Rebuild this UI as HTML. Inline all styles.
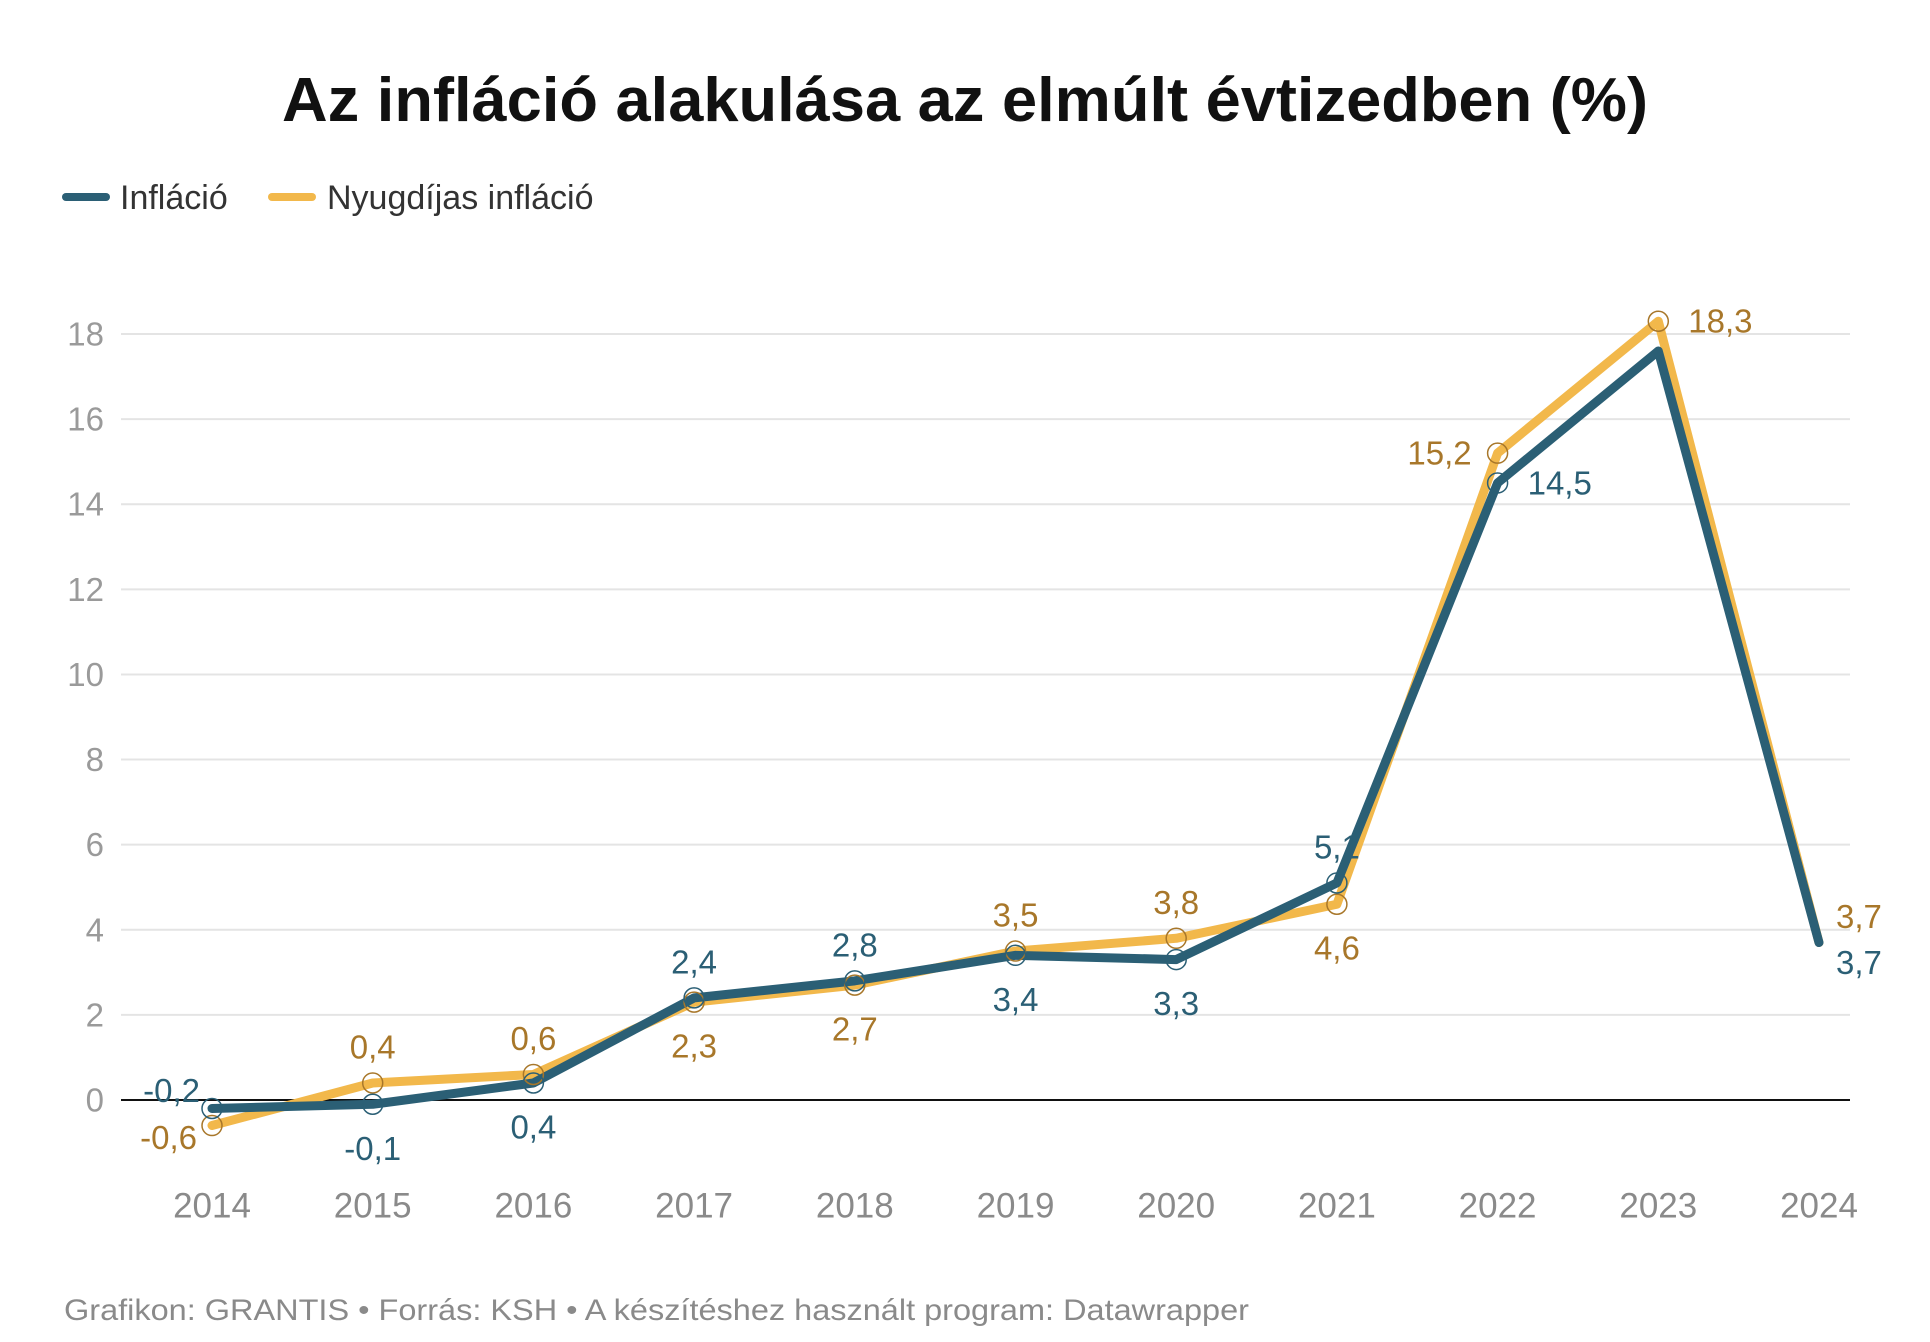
<!DOCTYPE html>
<html><head><meta charset="utf-8"><style>
html,body{margin:0;padding:0;background:#fff;}
svg{display:block;font-family:"Liberation Sans",sans-serif;}
</style></head><body>
<svg id="chart" width="1930" height="1342" viewBox="0 0 1930 1342" xmlns="http://www.w3.org/2000/svg">
<text x="965" y="121" text-anchor="middle" font-size="62" font-weight="bold" fill="#111" textLength="1366" lengthAdjust="spacingAndGlyphs">Az infláció alakulása az elmúlt évtizedben (%)</text>
<g>
<line x1="66" y1="197" x2="106" y2="197" stroke="#2b5f75" stroke-width="8" stroke-linecap="round"/>
<text x="120" y="209" font-size="34" fill="#333">Infláció</text>
<line x1="272" y1="197" x2="312" y2="197" stroke="#f2b84b" stroke-width="8" stroke-linecap="round"/>
<text x="327" y="209" font-size="34" fill="#333">Nyugdíjas infláció</text>
</g>
<g id="grid"></g><g id="lines"></g><g id="marks"></g>
<text x="64" y="1320" font-size="30" fill="#8a8a8a" textLength="1185" lengthAdjust="spacingAndGlyphs">Grafikon: GRANTIS • Forrás: KSH • A készítéshez használt program: Datawrapper</text>
</svg>
<script>
const years = ["2014","2015","2016","2017","2018","2019","2020","2021","2022","2023","2024"];
const inflacio = [-0.2,-0.1,0.4,2.4,2.8,3.4,3.3,5.1,14.5,17.6,3.7];
const nyugdijas = [-0.6,0.4,0.6,2.3,2.7,3.5,3.8,4.6,15.2,18.3,3.7];
const yTicks = [0,2,4,6,8,10,12,14,16,18];
const inflLabelPos = ["left","below","below","above","above","below","below","above","right","none","rightbelow"];
const nyugLabelPos = ["leftbelow","above","above","below","below","above","above","below","left","right","rightabove"];

const NS="http://www.w3.org/2000/svg";
const X0=212, X1=1819, GL=121, GR=1850;
const Y0=1100, PER=(1100-334)/18;
function xs(i){return X0+(X1-X0)*i/(years.length-1);}
function ys(v){return Y0-v*PER;}
function mk(tag,attrs,parent){const e=document.createElementNS(NS,tag);for(const k in attrs)e.setAttribute(k,attrs[k]);parent.appendChild(e);return e;}
const grid=document.getElementById('grid'),lines=document.getElementById('lines'),marks=document.getElementById('marks');
yTicks.forEach(t=>{
  if(t!==0){const l=mk('line',{x1:GL,x2:GR,y1:ys(t),y2:ys(t),stroke:'#e4e4e4','stroke-width':2},grid);
  
  }
  const tx=mk('text',{x:104,y:ys(t),'text-anchor':'end','dominant-baseline':'central','font-size':33,fill:'#9a9a9a'},grid);
  tx.textContent=String(t);
  
  
});
const z=mk('line',{x1:GL,x2:GR,y1:ys(0),y2:ys(0),stroke:'#111','stroke-width':2},grid);


years.forEach((y,i)=>{
  const tx=mk('text',{x:xs(i),y:1206,'text-anchor':'middle','dominant-baseline':'central','font-size':35,fill:'#8a8a8a'},grid);
  tx.textContent=y;
  
  
});
function series(vals,color,labColor,pos,name){
  const pts=vals.map((v,i)=>xs(i)+','+ys(v)).join(' ');
  const pl=mk('polyline',{points:pts,fill:'none',stroke:color,'stroke-width':9,'stroke-linejoin':'round','stroke-linecap':'round'},lines);
  
  
  vals.forEach((v,i)=>{
    const p=pos[i]; if(p==='none')return;
    const cx=xs(i),cy=ys(v);
    if(i!==vals.length-1){
      const c=mk('circle',{cx:cx,cy:cy,r:10,fill:'none',stroke:labColor,'stroke-width':1.5},marks);
      
      
    }
    let lx=cx,ly=cy,anc='middle';
    if(p==='above'){ly=cy-36;}
    else if(p==='below'){ly=cy+44;}
    else if(p==='right'){lx=cx+30;anc='start';}
    else if(p==='left'){lx=cx-26;anc='end';}
    else if(p==='rightbelow'){lx=cx+17;ly=cy+20;anc='start';}
    else if(p==='rightabove'){lx=cx+17;ly=cy-26;anc='start';}
    else if(p==='leftbelow'){lx=cx-15;ly=cy+12;anc='end';}
    if(p==='left'&&i===0){lx=cx-12;ly=cy-18;}
    const t=mk('text',{x:lx,y:ly,'text-anchor':anc,'dominant-baseline':'central','font-size':33,fill:labColor},marks);
    t.textContent=String(v).replace('.',',');
    
    
  });
}
series(nyugdijas,'#f2b84b','#a8772a',nyugLabelPos,'nyugdijas');
series(inflacio,'#2b5f75','#2b5f75',inflLabelPos,'inflacio');
</script>
</body></html>
